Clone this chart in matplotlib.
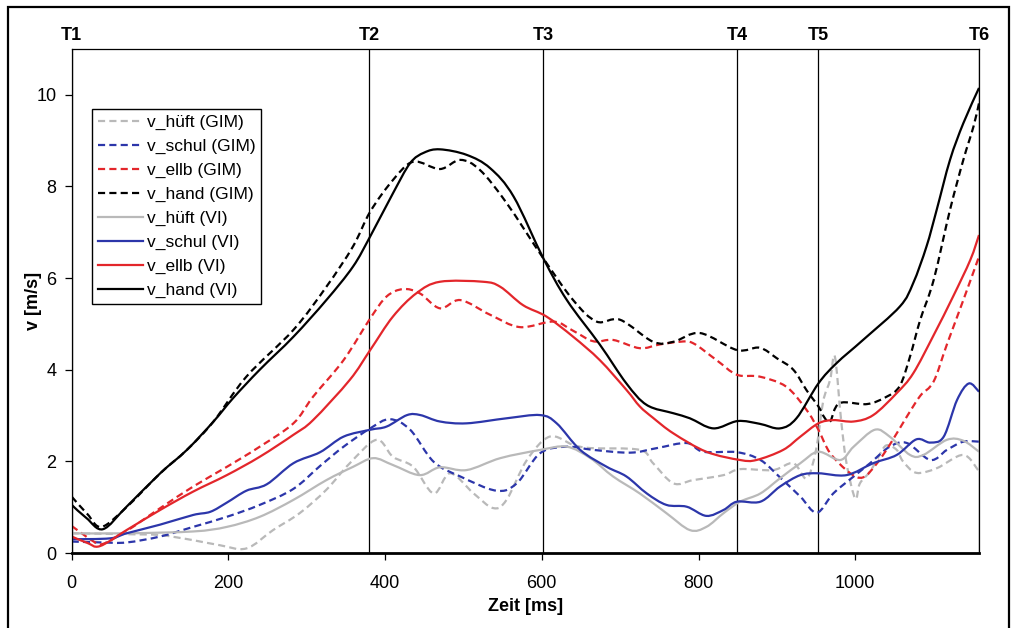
import matplotlib
matplotlib.use("Agg")
import matplotlib.pyplot as plt
import numpy as np
from matplotlib.lines import Line2D
from matplotlib.patches import PathPatch, Rectangle
from matplotlib.path import Path

plt.rcParams["font.family"] = ["Liberation Sans Narrow", "Liberation Sans", "DejaVu Sans"]

# ── Daten ────────────────────────────────────────────────────────────────────
t_marks = [0, 380, 602, 849, 953, 1158]
t_names = ["T1", "T2", "T3", "T4", "T5", "T6"]

t_hand_vi = [0, 19, 40, 70, 113, 147, 181, 206, 240, 283, 325, 359, 381, 410, 432, 450, 470, 504,
             534, 564, 602, 632, 674, 708, 734, 768, 789, 819, 850, 878, 904, 925, 953, 976,
             1010, 1057, 1074, 1091, 1104, 1121, 1138, 1158]
v_hand_vi = [1.05, 0.76, 0.52, 1.01, 1.74, 2.25, 2.87, 3.38, 4.0, 4.72, 5.52, 6.25, 6.91, 7.85,
             8.51, 8.74, 8.81, 8.69, 8.4, 7.78, 6.43, 5.52, 4.55, 3.7, 3.23, 3.05, 2.94, 2.72,
             2.88, 2.82, 2.72, 2.94, 3.7, 4.14, 4.65, 5.38, 5.89, 6.69, 7.49, 8.58, 9.38, 10.15]

t_hand_gim = [0, 20, 38, 70, 113, 147, 181, 223, 283, 325, 359, 381, 410, 436, 470, 496, 521,
              555, 602, 640, 670, 700, 742, 768, 802, 849, 878, 900, 921, 938, 953, 961, 968,
              980, 1015, 1040, 1057, 1070, 1083, 1100, 1121, 1138, 1151, 1158]
v_hand_gim = [1.23, 0.85, 0.57, 1.0, 1.74, 2.25, 2.87, 3.85, 4.87, 5.81, 6.69, 7.45, 8.14, 8.54,
              8.38, 8.58, 8.36, 7.64, 6.43, 5.52, 5.05, 5.09, 4.61, 4.61, 4.8, 4.43, 4.48, 4.25,
              4.0, 3.55, 3.2, 2.95, 2.87, 3.27, 3.25, 3.41, 3.65, 4.29, 5.09, 5.95, 7.49, 8.58,
              9.31, 9.82]

t_ellb_vi = [0, 20, 36, 70, 113, 155, 198, 240, 283, 308, 355, 381, 410, 440, 470, 525, 547,
             576, 606, 640, 674, 708, 725, 742, 768, 810, 853, 874, 908, 930, 953, 972, 998,
             1023, 1053, 1074, 1100, 1125, 1147, 1158]
v_ellb_vi = [0.36, 0.22, 0.15, 0.5, 0.94, 1.34, 1.7, 2.1, 2.58, 2.9, 3.78, 4.43, 5.16, 5.67,
             5.92, 5.92, 5.81, 5.41, 5.16, 4.72, 4.21, 3.56, 3.2, 2.95, 2.61, 2.21, 2.03, 2.03,
             2.25, 2.54, 2.83, 2.9, 2.87, 3.01, 3.49, 3.92, 4.75, 5.6, 6.4, 6.94]

t_ellb_gim = [0, 28, 40, 70, 113, 155, 198, 240, 283, 308, 347, 381, 402, 423, 444, 470, 496,
              534, 572, 615, 640, 666, 691, 725, 750, 776, 793, 823, 849, 878, 912, 938, 953,
              968, 993, 1010, 1027, 1044, 1066, 1083, 1100, 1117, 1138, 1158]
v_ellb_gim = [0.59, 0.25, 0.2, 0.48, 0.98, 1.45, 1.88, 2.32, 2.83, 3.41, 4.21, 5.12, 5.6, 5.76,
              5.67, 5.34, 5.52, 5.2, 4.93, 5.05, 4.85, 4.62, 4.65, 4.47, 4.55, 4.61, 4.58, 4.21,
              3.89, 3.85, 3.63, 3.12, 2.69, 2.18, 1.75, 1.65, 1.94, 2.36, 2.98, 3.43, 3.74, 4.55,
              5.52, 6.47]

t_schul_vi = [0, 49, 70, 113, 155, 177, 198, 223, 249, 283, 317, 347, 381, 402, 428, 445, 470,
              504, 555, 598, 619, 649, 683, 708, 734, 759, 785, 810, 832, 849, 879, 904, 930,
              953, 989, 1023, 1053, 1078, 1096, 1113, 1130, 1145, 1158]
v_schul_vi = [0.3, 0.32, 0.43, 0.62, 0.83, 0.9, 1.1, 1.36, 1.5, 1.96, 2.2, 2.54, 2.69, 2.76,
              3.01, 3.01, 2.87, 2.83, 2.94, 3.01, 2.83, 2.25, 1.88, 1.67, 1.3, 1.05, 1.01, 0.81,
              0.94, 1.12, 1.12, 1.45, 1.7, 1.74, 1.7, 1.96, 2.14, 2.48, 2.41, 2.54, 3.34, 3.7,
              3.52]

t_schul_gim = [0, 40, 70, 113, 155, 198, 240, 283, 317, 347, 381, 406, 432, 462, 496, 542, 568,
               598, 632, 666, 713, 747, 785, 806, 849, 879, 904, 930, 951, 972, 998, 1019, 1044,
               1066, 1096, 1117, 1138, 1158]
v_schul_gim = [0.25, 0.23, 0.23, 0.36, 0.57, 0.79, 1.05, 1.4, 1.9, 2.32, 2.72, 2.92, 2.69, 1.99,
               1.67, 1.36, 1.52, 2.18, 2.32, 2.25, 2.19, 2.29, 2.4, 2.21, 2.2, 2.03, 1.65, 1.23,
               0.88, 1.3, 1.67, 1.96, 2.32, 2.4, 2.03, 2.25, 2.43, 2.43]

t_hueft_vi = [0, 70, 155, 198, 240, 283, 325, 359, 385, 410, 444, 470, 504, 547, 598, 632, 662,
              691, 725, 759, 789, 810, 832, 853, 879, 904, 930, 953, 981, 998, 1025, 1044, 1070,
              1087, 1117, 1138, 1158]
v_hueft_vi = [0.43, 0.43, 0.47, 0.57, 0.79, 1.16, 1.59, 1.88, 2.07, 1.92, 1.7, 1.87, 1.81, 2.07,
              2.25, 2.32, 2.07, 1.67, 1.3, 0.87, 0.5, 0.57, 0.87, 1.12, 1.3, 1.63, 1.96, 2.21,
              2.03, 2.32, 2.69, 2.54, 2.14, 2.14, 2.47, 2.45, 2.21]

t_hueft_gim = [0, 70, 113, 155, 189, 223, 257, 291, 325, 355, 389, 410, 436, 462, 483, 513, 538,
               555, 581, 610, 640, 662, 725, 742, 768, 793, 832, 853, 895, 921, 938, 950, 959,
               968, 974, 982, 989, 1000, 1006, 1019, 1031, 1040, 1053, 1061, 1078, 1104, 1138,
               1158]
v_hueft_gim = [0.43, 0.41, 0.39, 0.28, 0.17, 0.1, 0.5, 0.87, 1.38, 1.96, 2.47, 2.1, 1.88, 1.3,
               1.74, 1.3, 0.98, 1.16, 2.03, 2.54, 2.36, 2.29, 2.25, 1.96, 1.52, 1.59, 1.7, 1.83,
               1.81, 1.96, 1.63, 2.25, 3.3, 3.78, 4.29, 2.9, 1.95, 1.19, 1.52, 1.78, 2.14, 2.35,
               2.25, 2.0, 1.75, 1.85, 2.14, 1.78]

GRAU = "#b9b9b9"
BLAU = "#2c36aa"
ROT = "#e3262b"
SCHWARZ = "#000000"
STRICH = (0, (3.2, 1.9))

kurven = [
    (t_hueft_gim, v_hueft_gim, GRAU, STRICH, "v_hüft (GIM)"),
    (t_schul_gim, v_schul_gim, BLAU, STRICH, "v_schul (GIM)"),
    (t_ellb_gim, v_ellb_gim, ROT, STRICH, "v_ellb (GIM)"),
    (t_hand_gim, v_hand_gim, SCHWARZ, STRICH, "v_hand (GIM)"),
    (t_hueft_vi, v_hueft_vi, GRAU, "-", "v_hüft (VI)"),
    (t_schul_vi, v_schul_vi, BLAU, "-", "v_schul (VI)"),
    (t_ellb_vi, v_ellb_vi, ROT, "-", "v_ellb (VI)"),
    (t_hand_vi, v_hand_vi, SCHWARZ, "-", "v_hand (VI)"),
]


def glatter_pfad(x, y):
    """Geglättete Linie wie in Excel: Bezier-Segmente durch alle Messpunkte."""
    p = np.column_stack([x, y]).astype(float)
    verts = [p[0]]
    codes = [Path.MOVETO]
    n = len(p)
    for i in range(n - 1):
        p0 = p[max(i - 1, 0)]
        p1, p2 = p[i], p[i + 1]
        p3 = p[min(i + 2, n - 1)]
        verts += [p1 + (p2 - p0) / 6, p2 - (p3 - p1) / 6, p2]
        codes += [Path.CURVE4] * 3
    return Path(verts, codes)


fig = plt.figure(figsize=(10.16, 6.28), dpi=100)
ax = fig.add_axes([71.7 / 1016, 1 - 553 / 628, (979 - 71.7) / 1016, (553 - 49) / 628])

handles = []
for t, v, farbe, stil, name in kurven:
    ax.add_patch(PathPatch(glatter_pfad(t, v), fill=False, edgecolor=farbe,
                           linestyle=stil, linewidth=1.6, transform=ax.transData,
                           clip_on=True, zorder=2))
    handles.append(Line2D([], [], color=farbe, linestyle=stil, linewidth=1.6, label=name))

# Zeitmarken T1..T6
for t, name in zip(t_marks, t_names):
    ax.axvline(t, color="black", linewidth=0.9, zorder=1)
    ax.annotate(name, xy=(t, 1.0), xycoords=("data", "axes fraction"), xytext=(0, 10),
                textcoords="offset points", ha="center", va="center",
                fontsize=13, fontweight="bold")

ax.set_xlim(0, 1158)
ax.set_ylim(0, 11)
ax.set_xticks([0, 200, 400, 600, 800, 1000])
ax.set_yticks([0, 2, 4, 6, 8, 10])
ax.tick_params(axis="both", direction="out", length=5, width=0.9, labelsize=13)
ax.tick_params(axis="x", pad=11)
ax.tick_params(axis="y", pad=6)
for seite in ["left", "top", "right"]:
    ax.spines[seite].set_linewidth(0.9)
ax.spines["bottom"].set_linewidth(2.0)

ax.set_xlabel("Zeit [ms]", fontsize=13, fontweight="bold", labelpad=4)
ax.set_ylabel("v [m/s]", fontsize=13, fontweight="bold")
ax.yaxis.set_label_coords(-0.033, 0.5)

leg = ax.legend(handles=handles, loc="upper left", bbox_to_anchor=(0.0224, 0.881),
                borderaxespad=0, fancybox=False, edgecolor="black", framealpha=1,
                prop={"family": ["Liberation Sans", "DejaVu Sans"], "size": 12.5},
                handlelength=2.6, handletextpad=0.2, labelspacing=0.5,
                borderpad=0.35)
leg.get_frame().set_linewidth(1.0)

# äußerer Rahmen
fig.patches.append(Rectangle((8 / 1016, -0.05), (1009 - 8) / 1016, 1.05 - 7 / 628,
                             transform=fig.transFigure, fill=False,
                             edgecolor="black", linewidth=1.6))

fig.savefig("out.png", dpi=100)
plt.close(fig)
